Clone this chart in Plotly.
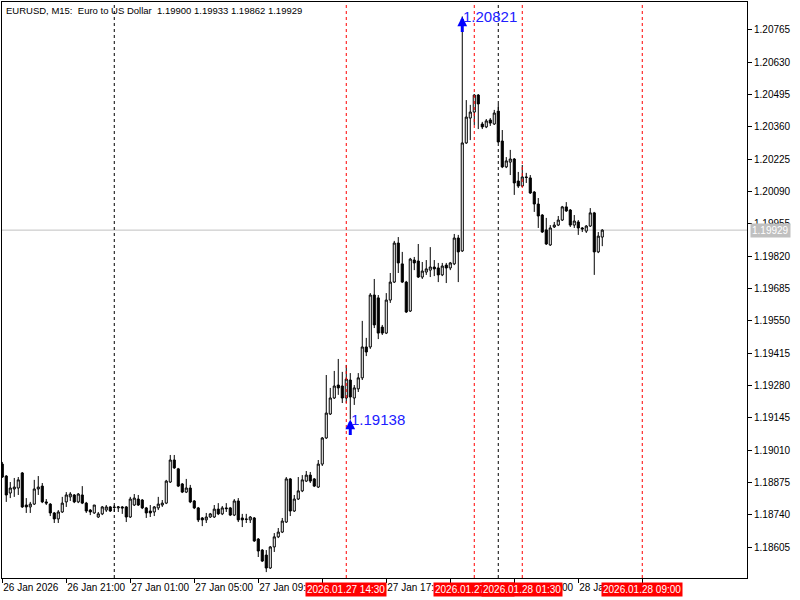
import pandas as pd
import plotly.graph_objects as go

chart_title = "EURUSD, M15:  Euro to US Dollar  1.19900 1.19933 1.19862 1.19929"
start_time = "2026-01-26 17:00"

opens = [1.18952, 1.18902, 1.18831, 1.18848, 1.18852, 1.18915, 1.18781, 1.18773, 1.18785, 1.18848,
         1.18860, 1.18794, 1.18785, 1.18748, 1.18723, 1.18752, 1.18794, 1.18815, 1.18823, 1.18794,
         1.18823, 1.18789, 1.18760, 1.18748, 1.18731, 1.18744, 1.18760, 1.18773, 1.18773, 1.18769,
         1.18773, 1.18773, 1.18731, 1.18781, 1.18806, 1.18802, 1.18769, 1.18756, 1.18752, 1.18769,
         1.18781, 1.18789, 1.18877, 1.18969, 1.18932, 1.18869, 1.18835, 1.18852, 1.18798, 1.18769,
         1.18727, 1.18719, 1.18731, 1.18731, 1.18764, 1.18744, 1.18769, 1.18769, 1.18739, 1.18798,
         1.18727, 1.18723, 1.18719, 1.18727, 1.18639, 1.18593, 1.18572, 1.18518, 1.18606, 1.18648,
         1.18668, 1.18710, 1.18890, 1.18756, 1.18806, 1.18840, 1.18881, 1.18906, 1.18890, 1.18856,
         1.18952, 1.19061, 1.19161, 1.19228, 1.19282, 1.19278, 1.19228, 1.19303, 1.19228, 1.19266,
         1.19312, 1.19441, 1.19441, 1.19658, 1.19646, 1.19524, 1.19499, 1.19637, 1.19712, 1.19875,
         1.19788, 1.19712, 1.19591, 1.19804, 1.19800, 1.19733, 1.19754, 1.19762, 1.19775, 1.19771,
         1.19742, 1.19783, 1.19771, 1.19788, 1.19896, 1.19842, 1.20293, 1.20397, 1.20422, 1.20493,
         1.20372, 1.20360, 1.20389, 1.20372, 1.20426, 1.20301, 1.20193, 1.20213, 1.20226, 1.20134,
         1.20113, 1.20151, 1.20147, 1.20088, 1.20038, 1.19992, 1.19930, 1.19867, 1.19942, 1.19950,
         1.19971, 1.20026, 1.20013, 1.19950, 1.19963, 1.19938, 1.19925, 1.19946, 1.20001, 1.19838,
         1.19900]
highs = [1.18961, 1.18906, 1.18877, 1.18894, 1.18898, 1.18919, 1.18810, 1.18794, 1.18886, 1.18902,
         1.18873, 1.18806, 1.18789, 1.18752, 1.18760, 1.18815, 1.18835, 1.18835, 1.18827, 1.18831,
         1.18860, 1.18794, 1.18764, 1.18781, 1.18752, 1.18777, 1.18781, 1.18777, 1.18781, 1.18777,
         1.18777, 1.18777, 1.18815, 1.18827, 1.18823, 1.18806, 1.18773, 1.18781, 1.18777, 1.18815,
         1.18802, 1.18886, 1.18990, 1.18990, 1.18936, 1.18873, 1.18890, 1.18865, 1.18802, 1.18773,
         1.18731, 1.18748, 1.18748, 1.18781, 1.18789, 1.18777, 1.18789, 1.18773, 1.18806, 1.18810,
         1.18744, 1.18744, 1.18735, 1.18731, 1.18643, 1.18597, 1.18593, 1.18610, 1.18664, 1.18685,
         1.18727, 1.18898, 1.18894, 1.18823, 1.18898, 1.18906, 1.18923, 1.18919, 1.18894, 1.18969,
         1.19065, 1.19324, 1.19270, 1.19341, 1.19391, 1.19337, 1.19366, 1.19332, 1.19282, 1.19332,
         1.19550, 1.19479, 1.19666, 1.19725, 1.19658, 1.19533, 1.19666, 1.19750, 1.19884, 1.19900,
         1.19838, 1.19717, 1.19813, 1.19817, 1.19871, 1.19796, 1.19804, 1.19858, 1.19804, 1.19792,
         1.19792, 1.19792, 1.19796, 1.19913, 1.19909, 1.20821, 1.20472, 1.20452, 1.20497, 1.20497,
         1.20381, 1.20393, 1.20397, 1.20431, 1.20456, 1.20347, 1.20234, 1.20264, 1.20230, 1.20172,
         1.20201, 1.20168, 1.20159, 1.20092, 1.20063, 1.19996, 1.19980, 1.19950, 1.19963, 1.19988,
         1.20030, 1.20046, 1.20017, 1.19992, 1.19971, 1.19942, 1.19950, 1.20021, 1.20005, 1.19921,
         1.19933]
lows = [1.18894, 1.18794, 1.18810, 1.18815, 1.18823, 1.18769, 1.18748, 1.18748, 1.18781, 1.18823,
        1.18789, 1.18781, 1.18735, 1.18706, 1.18706, 1.18748, 1.18773, 1.18798, 1.18789, 1.18789,
        1.18785, 1.18748, 1.18739, 1.18744, 1.18727, 1.18739, 1.18752, 1.18752, 1.18752, 1.18752,
        1.18744, 1.18710, 1.18727, 1.18777, 1.18777, 1.18764, 1.18727, 1.18731, 1.18735, 1.18760,
        1.18773, 1.18785, 1.18873, 1.18932, 1.18856, 1.18831, 1.18831, 1.18789, 1.18764, 1.18710,
        1.18693, 1.18706, 1.18727, 1.18727, 1.18739, 1.18739, 1.18752, 1.18735, 1.18735, 1.18710,
        1.18689, 1.18706, 1.18706, 1.18627, 1.18564, 1.18543, 1.18501, 1.18514, 1.18585, 1.18643,
        1.18664, 1.18706, 1.18735, 1.18752, 1.18802, 1.18835, 1.18877, 1.18873, 1.18856, 1.18852,
        1.18944, 1.19057, 1.19157, 1.19224, 1.19241, 1.19207, 1.19207, 1.19138, 1.19199, 1.19253,
        1.19303, 1.19403, 1.19433, 1.19520, 1.19474, 1.19491, 1.19495, 1.19625, 1.19708, 1.19750,
        1.19708, 1.19583, 1.19587, 1.19762, 1.19729, 1.19725, 1.19742, 1.19733, 1.19737, 1.19712,
        1.19737, 1.19708, 1.19762, 1.19783, 1.19712, 1.19838, 1.20289, 1.20305, 1.20368, 1.20351,
        1.20351, 1.20355, 1.20364, 1.20368, 1.20293, 1.20188, 1.20188, 1.20159, 1.20076, 1.20105,
        1.20109, 1.20126, 1.20080, 1.20005, 1.19938, 1.19917, 1.19867, 1.19863, 1.19938, 1.19946,
        1.19967, 1.20005, 1.19942, 1.19938, 1.19909, 1.19921, 1.19917, 1.19942, 1.19742, 1.19833,
        1.19862]
closes = [1.18898, 1.18823, 1.18852, 1.18856, 1.18886, 1.18773, 1.18773, 1.18785, 1.18848, 1.18856,
          1.18794, 1.18789, 1.18748, 1.18723, 1.18752, 1.18789, 1.18823, 1.18827, 1.18794, 1.18827,
          1.18789, 1.18756, 1.18752, 1.18781, 1.18744, 1.18773, 1.18773, 1.18756, 1.18771, 1.18773,
          1.18769, 1.18731, 1.18806, 1.18810, 1.18781, 1.18769, 1.18748, 1.18748, 1.18773, 1.18785,
          1.18789, 1.18881, 1.18969, 1.18936, 1.18860, 1.18835, 1.18852, 1.18794, 1.18769, 1.18719,
          1.18719, 1.18731, 1.18744, 1.18764, 1.18744, 1.18769, 1.18766, 1.18739, 1.18798, 1.18719,
          1.18719, 1.18721, 1.18731, 1.18631, 1.18589, 1.18547, 1.18518, 1.18606, 1.18648, 1.18668,
          1.18714, 1.18890, 1.18756, 1.18806, 1.18840, 1.18886, 1.18906, 1.18881, 1.18860, 1.18952,
          1.19061, 1.19165, 1.19228, 1.19278, 1.19270, 1.19228, 1.19307, 1.19232, 1.19270, 1.19312,
          1.19441, 1.19420, 1.19658, 1.19533, 1.19499, 1.19499, 1.19637, 1.19712, 1.19875, 1.19792,
          1.19712, 1.19587, 1.19808, 1.19792, 1.19733, 1.19758, 1.19767, 1.19775, 1.19767, 1.19742,
          1.19779, 1.19771, 1.19792, 1.19896, 1.19838, 1.20293, 1.20401, 1.20422, 1.20493, 1.20456,
          1.20360, 1.20385, 1.20376, 1.20418, 1.20297, 1.20193, 1.20218, 1.20226, 1.20126, 1.20113,
          1.20151, 1.20149, 1.20084, 1.20038, 1.19988, 1.19921, 1.19871, 1.19938, 1.19950, 1.19971,
          1.20026, 1.20009, 1.19950, 1.19967, 1.19938, 1.19934, 1.19946, 1.20001, 1.19838, 1.19904,
          1.19929]

price_ticks = [1.18605, 1.18740, 1.18875, 1.19010, 1.19145, 1.19280, 1.19415, 1.19550,
               1.19685, 1.19820, 1.19955, 1.20090, 1.20225, 1.20360, 1.20495, 1.20630, 1.20765]
time_ticks = ["2026-01-26 17:00", "2026-01-26 21:00", "2026-01-27 01:00", "2026-01-27 05:00",
              "2026-01-27 09:00", "2026-01-27 13:00", "2026-01-27 17:00", "2026-01-27 21:00",
              "2026-01-28 01:00", "2026-01-28 05:00", "2026-01-28 09:00"]
time_tick_labels = ["26 Jan 2026", "26 Jan 21:00", "27 Jan 01:00", "27 Jan 05:00",
                    "27 Jan 09:00", "27 Jan 13:00", "27 Jan 17:00", "27 Jan 21:00",
                    "28 Jan 01:00", "28 Jan 05:00", ""]
day_separators = ["2026-01-27 00:00", "2026-01-28 00:00"]
event_times = ["2026-01-27 14:30", "2026-01-27 22:30", "2026-01-28 01:30", "2026-01-28 09:00"]
event_labels = ["2026.01.27 14:30", "2026.01.27 22:30", "2026.01.28 01:30", "2026.01.28 09:00"]
mark_times = ["2026-01-27 21:45", "2026-01-27 14:45"]
mark_prices = [1.20821, 1.19138]
current_price = 1.19929
x_range = ["2026-01-26 16:59", "2026-01-28 15:32:45"]
y_range = [1.184763, 1.208816]

times = pd.date_range(start_time, periods=len(opens), freq="15min")

fig = go.Figure()
fig.add_trace(go.Candlestick(
    x=times, open=opens, high=highs, low=lows, close=closes,
    increasing=dict(line=dict(color="black", width=1), fillcolor="white"),
    decreasing=dict(line=dict(color="black", width=1), fillcolor="black"),
    whiskerwidth=0, hoverinfo="skip", showlegend=False,
))

shapes = []
for t in day_separators:
    shapes.append(dict(type="line", xref="x", yref="paper", x0=t, x1=t, y0=0, y1=1,
                       line=dict(color="black", width=1, dash="3px,3px")))
for t in event_times:
    shapes.append(dict(type="line", xref="x", yref="paper", x0=t, x1=t, y0=0, y1=1,
                       line=dict(color="#ff0000", width=1, dash="3px,3px")))
shapes.append(dict(type="line", xref="paper", yref="y", x0=0, x1=1, y0=current_price, y1=current_price,
                   line=dict(color="#c0c0c0", width=1), layer="below"))

annotations = [dict(text=chart_title, xref="paper", yref="paper", x=0, y=1, xanchor="left", yanchor="top",
                    xshift=2, yshift=-1, showarrow=False,
                    font=dict(family="Liberation Sans", size=9.5, color="black"))]
for t, p in zip(mark_times, mark_prices):
    annotations.append(dict(x=t, y=p, xref="x", yref="y", text="", showarrow=True, ax=0, ay=17,
                            arrowhead=2, arrowsize=0.65, arrowwidth=3, arrowcolor="#0000ff",
                            font=dict(size=1)))
    annotations.append(dict(x=t, y=p, xref="x", yref="y", text=f"{p:.5f}", showarrow=False,
                            xanchor="left", yanchor="middle", xshift=-1,
                            font=dict(family="Liberation Sans", size=15, color="#2020ff")))
for t, lab in zip(event_times, event_labels):
    annotations.append(dict(x=t, y=0, xref="x", yref="paper", text=lab, showarrow=False,
                            xanchor="center", yanchor="top", yshift=-4, bgcolor="#ff0000",
                            borderpad=1, font=dict(family="Liberation Sans", size=10, color="white")))
annotations.append(dict(x=1, y=current_price, xref="paper", yref="y", text=f"{current_price:.5f}",
                        showarrow=False, xanchor="left", yanchor="middle", xshift=3,
                        bgcolor="#c0c0c0", borderpad=1,
                        font=dict(family="Liberation Sans", size=10, color="white")))

fig.update_layout(
    width=800, height=600,
    margin=dict(l=2, r=53, t=2, b=22, autoexpand=False),
    paper_bgcolor="white", plot_bgcolor="white",
    boxgap=0.25,
    shapes=shapes, annotations=annotations,
    hovermode=False,
    xaxis=dict(type="date", range=x_range, rangeslider=dict(visible=False), automargin=False,
               showgrid=False, zeroline=False, showline=True, mirror=True, linecolor="black", linewidth=1,
               ticks="outside", ticklen=4, tickcolor="black", tickvals=time_ticks, ticktext=time_tick_labels,
               ticklabelposition="outside right", tickangle=0,
               tickfont=dict(family="Liberation Sans", size=10, color="black")),
    yaxis=dict(side="right", range=y_range, showgrid=False, zeroline=False, showline=True, mirror=True,
               automargin=False,
               linecolor="black", linewidth=1, ticks="outside", ticklen=4, tickcolor="black",
               tickvals=price_ticks, ticktext=[f"{v:.5f}" for v in price_ticks],
               tickfont=dict(family="Liberation Sans", size=10, color="black")),
)

fig.write_html("out.html", config={"displayModeBar": False},
               post_script="document.body.style.margin='0';document.body.style.overflow='hidden';")
